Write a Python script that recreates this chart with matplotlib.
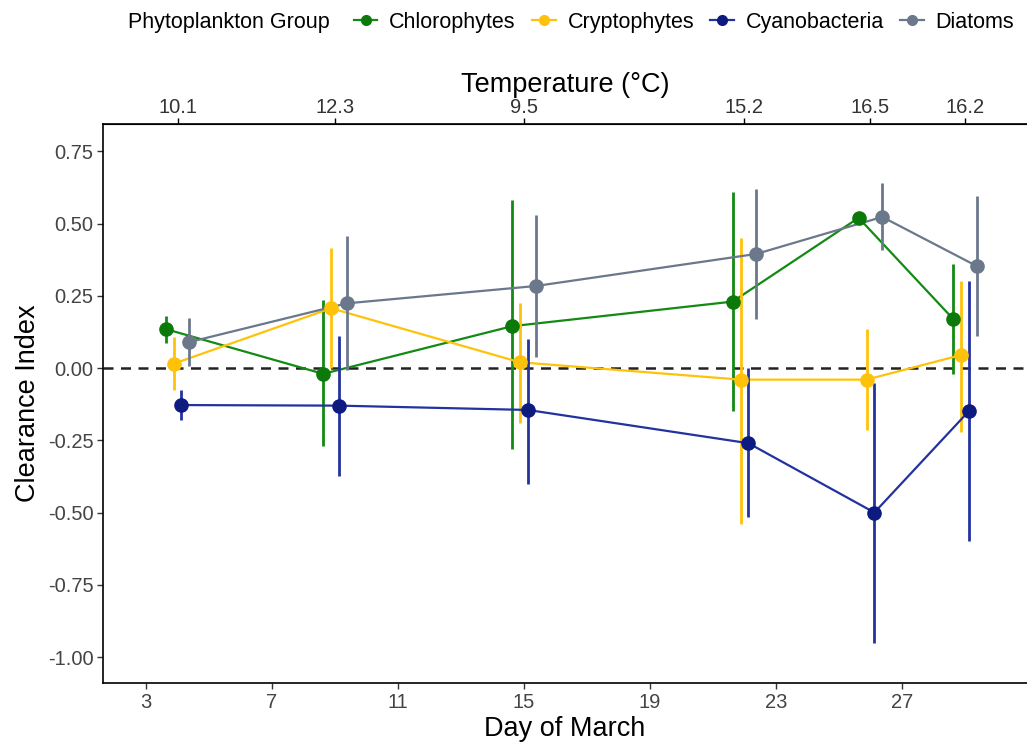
import numpy as np
import matplotlib.pyplot as plt
from matplotlib.lines import Line2D

plt.rcParams['font.family'] = ['Liberation Sans', 'DejaVu Sans']

days = [4, 9, 15, 22, 26, 29]
temps = ['10.1', '12.3', '9.5', '15.2', '16.5', '16.2']
groups = ['Chlorophytes', 'Cryptophytes', 'Cyanobacteria', 'Diatoms']
colors = ['#0b7a0b', '#ffc20a', '#0d1a80', '#6b788c']
line_colors = ['#138a13', '#ffc20a', '#2233a0', '#6b788c']

chloro_y = [0.135, -0.02, 0.145, 0.23, 0.52, 0.17]
chloro_lo = [0.087, -0.27, -0.28, -0.15, 0.515, -0.02]
chloro_hi = [0.18, 0.235, 0.58, 0.61, 0.525, 0.36]

crypto_y = [0.015, 0.207, 0.02, -0.04, -0.04, 0.045]
crypto_lo = [-0.076, 0.0, -0.19, -0.54, -0.215, -0.22]
crypto_hi = [0.107, 0.415, 0.225, 0.45, 0.135, 0.30]

cyano_y = [-0.128, -0.13, -0.145, -0.26, -0.50, -0.149]
cyano_lo = [-0.18, -0.375, -0.40, -0.515, -0.95, -0.60]
cyano_hi = [-0.076, 0.11, 0.10, 0.0, -0.05, 0.30]

diatom_y = [0.09, 0.224, 0.284, 0.395, 0.523, 0.353]
diatom_lo = [0.007, -0.007, 0.04, 0.17, 0.41, 0.11]
diatom_hi = [0.173, 0.457, 0.53, 0.62, 0.64, 0.595]

series = [(chloro_y, chloro_lo, chloro_hi), (crypto_y, crypto_lo, crypto_hi),
          (cyano_y, cyano_lo, cyano_hi), (diatom_y, diatom_lo, diatom_hi)]
offsets = [-0.375, -0.125, 0.125, 0.375]

fig = plt.figure(figsize=(10.27, 7.42), dpi=100)
ax = fig.add_axes([0.1003, 0.0795, 0.8997, 0.7535])

ax.axhline(0, color='#222222', linestyle=(0, (4, 3)), lw=1.8, zorder=1)

for (y, lo, hi), off, c, lc in zip(series, offsets, colors, line_colors):
    x = np.array(days) + off
    y = np.array(y)
    ax.vlines(x, lo, hi, color=lc, lw=2, zorder=2)
    ax.plot(x, y, color=lc, lw=1.6, zorder=2)
    ax.plot(x, y, 'o', color=c, ms=9.5, zorder=3)

ax.set_xlim(1.635, 30.97)
ax.set_ylim(-1.09, 0.845)
ax.set_xticks([3, 7, 11, 15, 19, 23, 27])
ax.set_yticks([0.75, 0.5, 0.25, 0, -0.25, -0.5, -0.75, -1.0])
ax.set_yticklabels(['0.75', '0.50', '0.25', '0.00', '-0.25', '-0.50', '-0.75', '-1.00'])
ax.tick_params(labelsize=14.5, colors='#333333', length=4, width=1, labelcolor='#444444', pad=3)
ax.set_xlabel('Day of March', fontsize=19.5, labelpad=3)
ax.set_ylabel('Clearance Index', fontsize=19.5, labelpad=5)
ax.spines['right'].set_visible(False)
for s in ['left', 'bottom', 'top']:
    ax.spines[s].set_linewidth(1.2)

top = ax.secondary_xaxis('top')
top.set_xticks(days)
top.set_xticklabels(temps)
top.tick_params(labelsize=14.5, labelcolor='#333333', length=4, width=1, pad=1)
top.set_xlabel('Temperature (°C)', fontsize=19.5, labelpad=4)

fig.text(0.1246, 0.970, 'Phytoplankton Group', fontsize=15.5, va='center', ha='left')
handles = [Line2D([0], [0], color=lc, marker='o', markerfacecolor=c, markeredgecolor=c,
                  ms=7, lw=1.6) for c, lc in zip(colors, line_colors)]
fig.legend(handles, groups, loc='center left', bbox_to_anchor=(0.334, 0.970), ncol=4,
           frameon=False, fontsize=15.5, handlelength=1.1, handletextpad=0.55,
           columnspacing=0.75, borderpad=0)

fig.savefig('out.png', dpi=100)
